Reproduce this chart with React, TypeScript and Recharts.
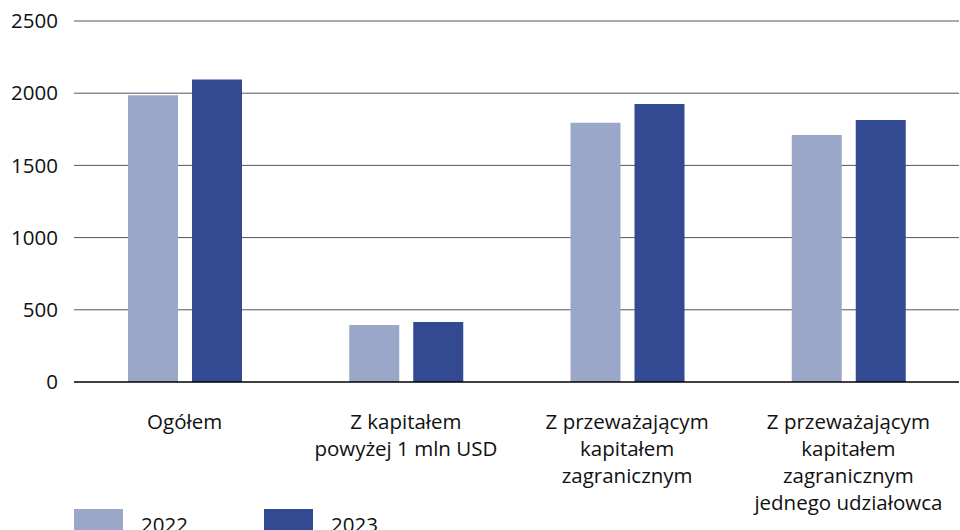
import { Bar, BarChart, CartesianGrid, XAxis, YAxis } from "recharts";

const categories = [
  "Ogółem",
  "Z kapitałem\npowyżej 1 mln USD",
  "Z przeważającym\nkapitałem\nzagranicznym",
  "Z przeważającym\nkapitałem\nzagranicznym\njednego udziałowca",
];
const values2022 = [1985, 395, 1795, 1710];
const values2023 = [2095, 415, 1925, 1815];
const yTicks = [0, 500, 1000, 1500, 2000, 2500];

const series = [
  { key: "y2022", name: "2022", color: "#9aa7c9" },
  { key: "y2023", name: "2023", color: "#334a92" },
];

const data = categories.map((c, i) => ({
  name: c,
  y2022: values2022[i],
  y2023: values2023[i],
}));

const font = "'Open Sans', sans-serif";

const CategoryTick = (props: any) => {
  const { x, y, payload } = props;
  const lines = String(payload.value).split("\n");
  return (
    <text
      x={x}
      y={y}
      textAnchor="middle"
      fill="#111"
      fontSize={20.5}
      fontFamily={font}
    >
      {lines.map((l, i) => (
        <tspan key={i} x={x} dy={i === 0 ? 0 : 27}>
          {l}
        </tspan>
      ))}
    </text>
  );
};

const App = () => {
  return (
    <div
      style={{
        position: "absolute",
        left: 0,
        top: 0,
        width: 960,
        height: 530,
        overflow: "hidden",
        background: "#fff",
        fontFamily: font,
      }}
    >
      <BarChart
        width={960}
        height={530}
        data={data}
        margin={{ top: 21, right: 1, bottom: 0, left: 0 }}
        barCategoryGap={54}
        barGap={14}
      >
        <CartesianGrid
          vertical={false}
          stroke="#555"
          strokeWidth={1}
          horizontalValues={[500, 1000, 1500, 2000, 2500]}
        />
        <XAxis
          dataKey="name"
          height={148}
          tickLine={false}
          axisLine={{ stroke: "#000", strokeWidth: 1.5 }}
          tickSize={0}
          tickMargin={47}
          interval={0}
          tick={<CategoryTick />}
        />
        <YAxis
          width={74}
          domain={[0, 2500]}
          ticks={yTicks}
          tickLine={false}
          axisLine={false}
          tickSize={0}
          tickMargin={16}
          tick={{ fill: "#111", fontSize: 20.5, fontFamily: font }}
        />
        {series.map((s) => (
          <Bar
            key={s.key}
            dataKey={s.key}
            name={s.name}
            fill={s.color}
            isAnimationActive={false}
          />
        ))}
      </BarChart>
      <div
        style={{
          position: "absolute",
          left: 74,
          top: 509,
          display: "flex",
          alignItems: "flex-start",
        }}
      >
        {series.map((s) => (
          <div
            key={s.key}
            style={{ display: "flex", alignItems: "flex-start", width: 190 }}
          >
            <div style={{ width: 49, height: 21, background: s.color }} />
            <span
              style={{
                marginLeft: 18,
                fontSize: 20.5,
                color: "#111",
                lineHeight: "22px",
                marginTop: 4,
              }}
            >
              {s.name}
            </span>
          </div>
        ))}
      </div>
    </div>
  );
};

export default App;
